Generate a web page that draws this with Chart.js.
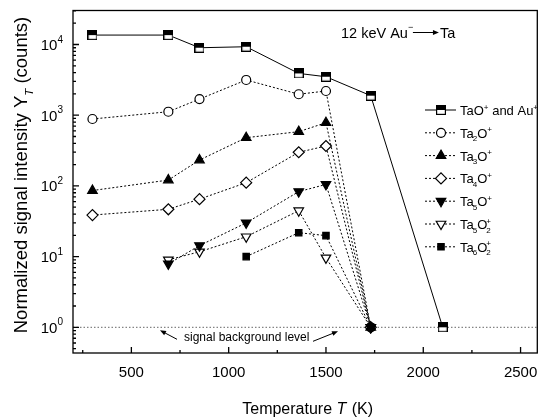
<!DOCTYPE html>
<html><head><meta charset="utf-8">
<script src="https://cdn.jsdelivr.net/npm/chart.js@4.4.0/dist/chart.umd.min.js"></script>
<style>html,body{margin:0;padding:0;background:#fff;}canvas{display:block;}</style>
</head><body>
<canvas id="c" width="544" height="419"></canvas>
<script>
// ---------------- data ----------------
const tempsTaO   = [300, 690, 850, 1090, 1360, 1500, 1730, 2100];
const valsTaO    = [13600, 13600, 9000, 9300, 3900, 3500, 1890, 1];
const tempsTa2O  = [300, 690, 850, 1090, 1360, 1500, 1730];
const valsTa2O   = [884, 1120, 1690, 3150, 1980, 2200, 1];
const valsTa3O   = [86, 121, 232, 481, 585, 783, 1];
const valsTa4O   = [38.7, 46.7, 65, 111, 299, 367, 1];
const tempsTa5O  = [690, 850, 1090, 1360, 1500, 1730];
const valsTa5O   = [7.9, 14.3, 30, 83, 105, 1];
const valsTa5O2  = [9.0, 11.7, 19.1, 44.6, 9.6, 1];
const tempsTa6O2 = [1090, 1360, 1500, 1730];
const valsTa6O2  = [10, 21.8, 19.8, 1];
const seriesLabels = ['TaO+ and Au+', 'Ta2O+', 'Ta3O+', 'Ta4O+', 'Ta5O+', 'Ta5O2+', 'Ta6O2+'];
const backgroundLevel = 1;
const xTickLabels = [500, 1000, 1500, 2000, 2500];
const xMinorTicks = [250, 750, 1250, 1750, 2250];
const yDecades = [0, 1, 2, 3, 4];
const xMin = 200, xMax = 2586, yMin = 0.433, yMax = 30270;

const FONT = '"Liberation Sans", Arial, Helvetica, sans-serif';

function pts(xs, ys){ return xs.map((x,i)=>({x:x, y:ys[i]})); }

function halfSquare(){
  const c=document.createElement('canvas'); c.width=10; c.height=10;
  const g=c.getContext('2d');
  g.fillStyle='#fff'; g.fillRect(0,0,10,10);
  g.fillStyle='#000'; g.fillRect(0,0,10,5);
  g.strokeStyle='#000'; g.lineWidth=1.2; g.strokeRect(0.6,0.6,8.8,8.8);
  return c;
}
const hsq = halfSquare();

const styles = [
  {pointStyle: hsq, radius:5, rotation:0, fill:'#000', dash:[], order:0},
  {pointStyle:'circle', radius:4.5, rotation:0, fill:'#fff', dash:[2,2], order:6},
  {pointStyle:'triangle', radius:5.5, rotation:0, fill:'#000', dash:[2,2], order:3},
  {pointStyle:'rectRot', radius:5.5, rotation:0, fill:'#fff', dash:[2,2], order:5},
  {pointStyle:'triangle', radius:5.5, rotation:180, fill:'#000', dash:[2,2], order:2},
  {pointStyle:'triangle', radius:5.5, rotation:180, fill:'#fff', dash:[2,2], order:4},
  {pointStyle:'rect', radius:4.5, rotation:0, fill:'#000', dash:[2,2], order:1}
];
const seriesData = [
  pts(tempsTaO, valsTaO), pts(tempsTa2O, valsTa2O), pts(tempsTa2O, valsTa3O),
  pts(tempsTa2O, valsTa4O), pts(tempsTa5O, valsTa5O), pts(tempsTa5O, valsTa5O2),
  pts(tempsTa6O2, valsTa6O2)
];

const datasets = seriesData.map((d,i)=>({
  label: seriesLabels[i], data: d, showLine:true, tension:0, order: styles[i].order,
  borderColor:'#000', borderWidth:1, borderDash: styles[i].dash,
  pointStyle: styles[i].pointStyle, pointRadius: styles[i].radius,
  pointRotation: styles[i].rotation, pointBackgroundColor: styles[i].fill,
  pointBorderColor:'#000', pointBorderWidth:1.2, clip:false
}));

function drawText(ctx, str, x, y, size, opt){
  opt = opt || {};
  ctx.save();
  ctx.font = (opt.italic?'italic ':'') + size + 'px ' + FONT;
  ctx.textBaseline = opt.baseline || 'alphabetic';
  ctx.fillStyle = '#000';
  const w = ctx.measureText(str).width;
  const x0 = opt.align==='center' ? x - w/2 : opt.align==='right' ? x - w : x;
  ctx.textAlign='left';
  ctx.fillText(str, x0, y);
  ctx.restore();
  return w;
}
function measure(ctx, str, size, italic){
  ctx.save(); ctx.font=(italic?'italic ':'')+size+'px '+FONT; const w=ctx.measureText(str).width; ctx.restore(); return w;
}
function parseRich(s){
  const out=[];
  for (const ch of s){
    if (/[0-9]/.test(ch)) out.push({t:ch,k:'sub'});
    else if (ch==='+') out.push({t:'+',k:'sup'});
    else { const l=out[out.length-1]; if(l && l.k==='n') l.t+=ch; else out.push({t:ch,k:'n'}); }
  }
  return out;
}
function drawRich(ctx, s, x, y, size){
  const parts=parseRich(s); let cx=x, prev=null, subStart=0;
  const small=size*0.62;
  for (const p of parts){
    if (p.k==='n'){ cx += drawText(ctx,p.t,cx,y,size); }
    else if (p.k==='sub'){ subStart=cx-1; cx = subStart + drawText(ctx,p.t,subStart,y+size*0.28,small); }
    else { const sx = prev==='sub' ? subStart : cx; const w=drawText(ctx,p.t,sx,y-size*0.42,small); cx=Math.max(cx,sx+w); }
    prev=p.k;
  }
}
function arrow(ctx, x1,y1,x2,y2, head){
  ctx.save(); ctx.strokeStyle='#000'; ctx.fillStyle='#000'; ctx.lineWidth=1; ctx.setLineDash([]);
  const a=Math.atan2(y2-y1,x2-x1);
  ctx.beginPath(); ctx.moveTo(x1,y1); ctx.lineTo(x2-Math.cos(a)*head*0.8,y2-Math.sin(a)*head*0.8); ctx.stroke();
  ctx.beginPath(); ctx.moveTo(x2,y2);
  ctx.lineTo(x2-head*Math.cos(a)+head*0.4*Math.sin(a), y2-head*Math.sin(a)-head*0.4*Math.cos(a));
  ctx.lineTo(x2-head*Math.cos(a)-head*0.4*Math.sin(a), y2-head*Math.sin(a)+head*0.4*Math.cos(a));
  ctx.closePath(); ctx.fill(); ctx.restore();
}

const decor = {
  id:'decor',
  beforeDatasetsDraw(chart){
    const {ctx, chartArea:a, scales:{x:xs, y:ys}} = chart;
    const yb = ys.getPixelForValue(backgroundLevel);
    ctx.save(); ctx.strokeStyle='#666'; ctx.lineWidth=1; ctx.setLineDash([1.5,2]);
    ctx.beginPath(); ctx.moveTo(a.left, yb); ctx.lineTo(a.right, yb); ctx.stroke(); ctx.restore();
  },
  afterDraw(chart){
    const {ctx, chartArea:a, scales:{x:xs, y:ys}} = chart;
    ctx.save();
    ctx.strokeStyle='#000'; ctx.lineWidth=1.3; ctx.setLineDash([]);
    ctx.strokeRect(a.left, a.top, a.right-a.left, a.bottom-a.top);
    ctx.beginPath();
    xTickLabels.forEach(v=>{ const px=xs.getPixelForValue(v); ctx.moveTo(px,a.bottom); ctx.lineTo(px,a.bottom-6); });
    xMinorTicks.forEach(v=>{ const px=xs.getPixelForValue(v); ctx.moveTo(px,a.bottom); ctx.lineTo(px,a.bottom-3); });
    for (let k=-1;k<=4;k++){
      for (let m=1;m<=9;m++){
        const v=m*Math.pow(10,k); if (v<yMin||v>yMax) continue;
        const py=ys.getPixelForValue(v); ctx.moveTo(a.left,py); ctx.lineTo(a.left+(m===1?6:3),py);
      }
    }
    ctx.stroke();
    ctx.restore();
    xTickLabels.forEach(v=>{ drawText(ctx, String(v), xs.getPixelForValue(v), a.bottom+24, 15, {align:'center'}); });
    yDecades.forEach(k=>{
      const py=ys.getPixelForValue(Math.pow(10,k));
      const w=measure(ctx,'10',15), ws=measure(ctx,String(k),10);
      const right=a.left-10;
      drawText(ctx,'10',right-ws-w,py+5.5,15);
      drawText(ctx,String(k),right-ws,py-2,10);
    });
    const s1='Temperature ', s2='T', s3=' (K)';
    const w1=measure(ctx,s1,16), w2=measure(ctx,s2,16,true), w3=measure(ctx,s3,16);
    let tx=(a.left+a.right)/2 - (w1+w2+w3)/2 + 2; const ty=414;
    drawText(ctx,s1,tx,ty,16); drawText(ctx,s2,tx+w1,ty,16,{italic:true}); drawText(ctx,s3,tx+w1+w2+1,ty,16);
    ctx.save();
    ctx.translate(27,175); ctx.rotate(-Math.PI/2);
    const ya='Normalized signal intensity Y', yb2='T', yc=' (counts)';
    const fs=18.5;
    const wa=measure(ctx,ya,fs), wb=measure(ctx,yb2,fs*0.62,true), wc=measure(ctx,yc,fs);
    let yx=-(wa+wb+wc)/2;
    drawText(ctx,ya,yx,0,fs); drawText(ctx,yb2,yx+wa,fs*0.3,fs*0.62,{italic:true}); drawText(ctx,yc,yx+wa+wb,0,fs);
    ctx.restore();
    let ax=341, ay=37.5;
    ax += drawText(ctx,'12 keV Au',ax,ay,14.5);
    drawText(ctx,'\u2212',ax,ay-8,9);
    arrow(ctx, ax+5, ay-5, ax+31, ay-5, 6);
    drawText(ctx,'Ta',ax+32,ay,14.5);
    const yb = ys.getPixelForValue(backgroundLevel);
    drawText(ctx,'signal background level',184,yb+14,12);
    arrow(ctx, 177, yb+12, 160, yb+3, 6);
    arrow(ctx, 313, yb+14, 338, yb+4, 6);
    const lx=441, ly0=110, dy=22.8;
    seriesLabels.forEach((lab,i)=>{
      const y=ly0+i*dy;
      ctx.save(); ctx.strokeStyle='#000'; ctx.lineWidth=1; ctx.setLineDash(styles[i].dash);
      ctx.beginPath(); ctx.moveTo(lx-16,y); ctx.lineTo(lx+15,y); ctx.stroke(); ctx.setLineDash([]);
      ctx.fillStyle=styles[i].fill; ctx.strokeStyle='#000'; ctx.lineWidth=1.2;
      Chart.helpers.drawPoint(ctx,{pointStyle:styles[i].pointStyle, rotation:styles[i].rotation, radius:styles[i].radius, borderWidth:1.2}, lx, y);
      ctx.restore();
      drawRich(ctx, lab, lx+19, y+5, 13);
    });
  }
};

new Chart(document.getElementById('c'), {
  type:'scatter',
  data:{datasets},
  options:{
    responsive:false, animation:false, devicePixelRatio:1,
    layout:{padding:{left:73, top:10.5, right:2, bottom:66}},
    plugins:{legend:{display:false}, tooltip:{enabled:false}},
    scales:{
      x:{type:'linear', display:false, min:xMin, max:xMax},
      y:{type:'logarithmic', display:false, min:yMin, max:yMax}
    }
  },
  plugins:[decor]
});
</script>
</body></html>
